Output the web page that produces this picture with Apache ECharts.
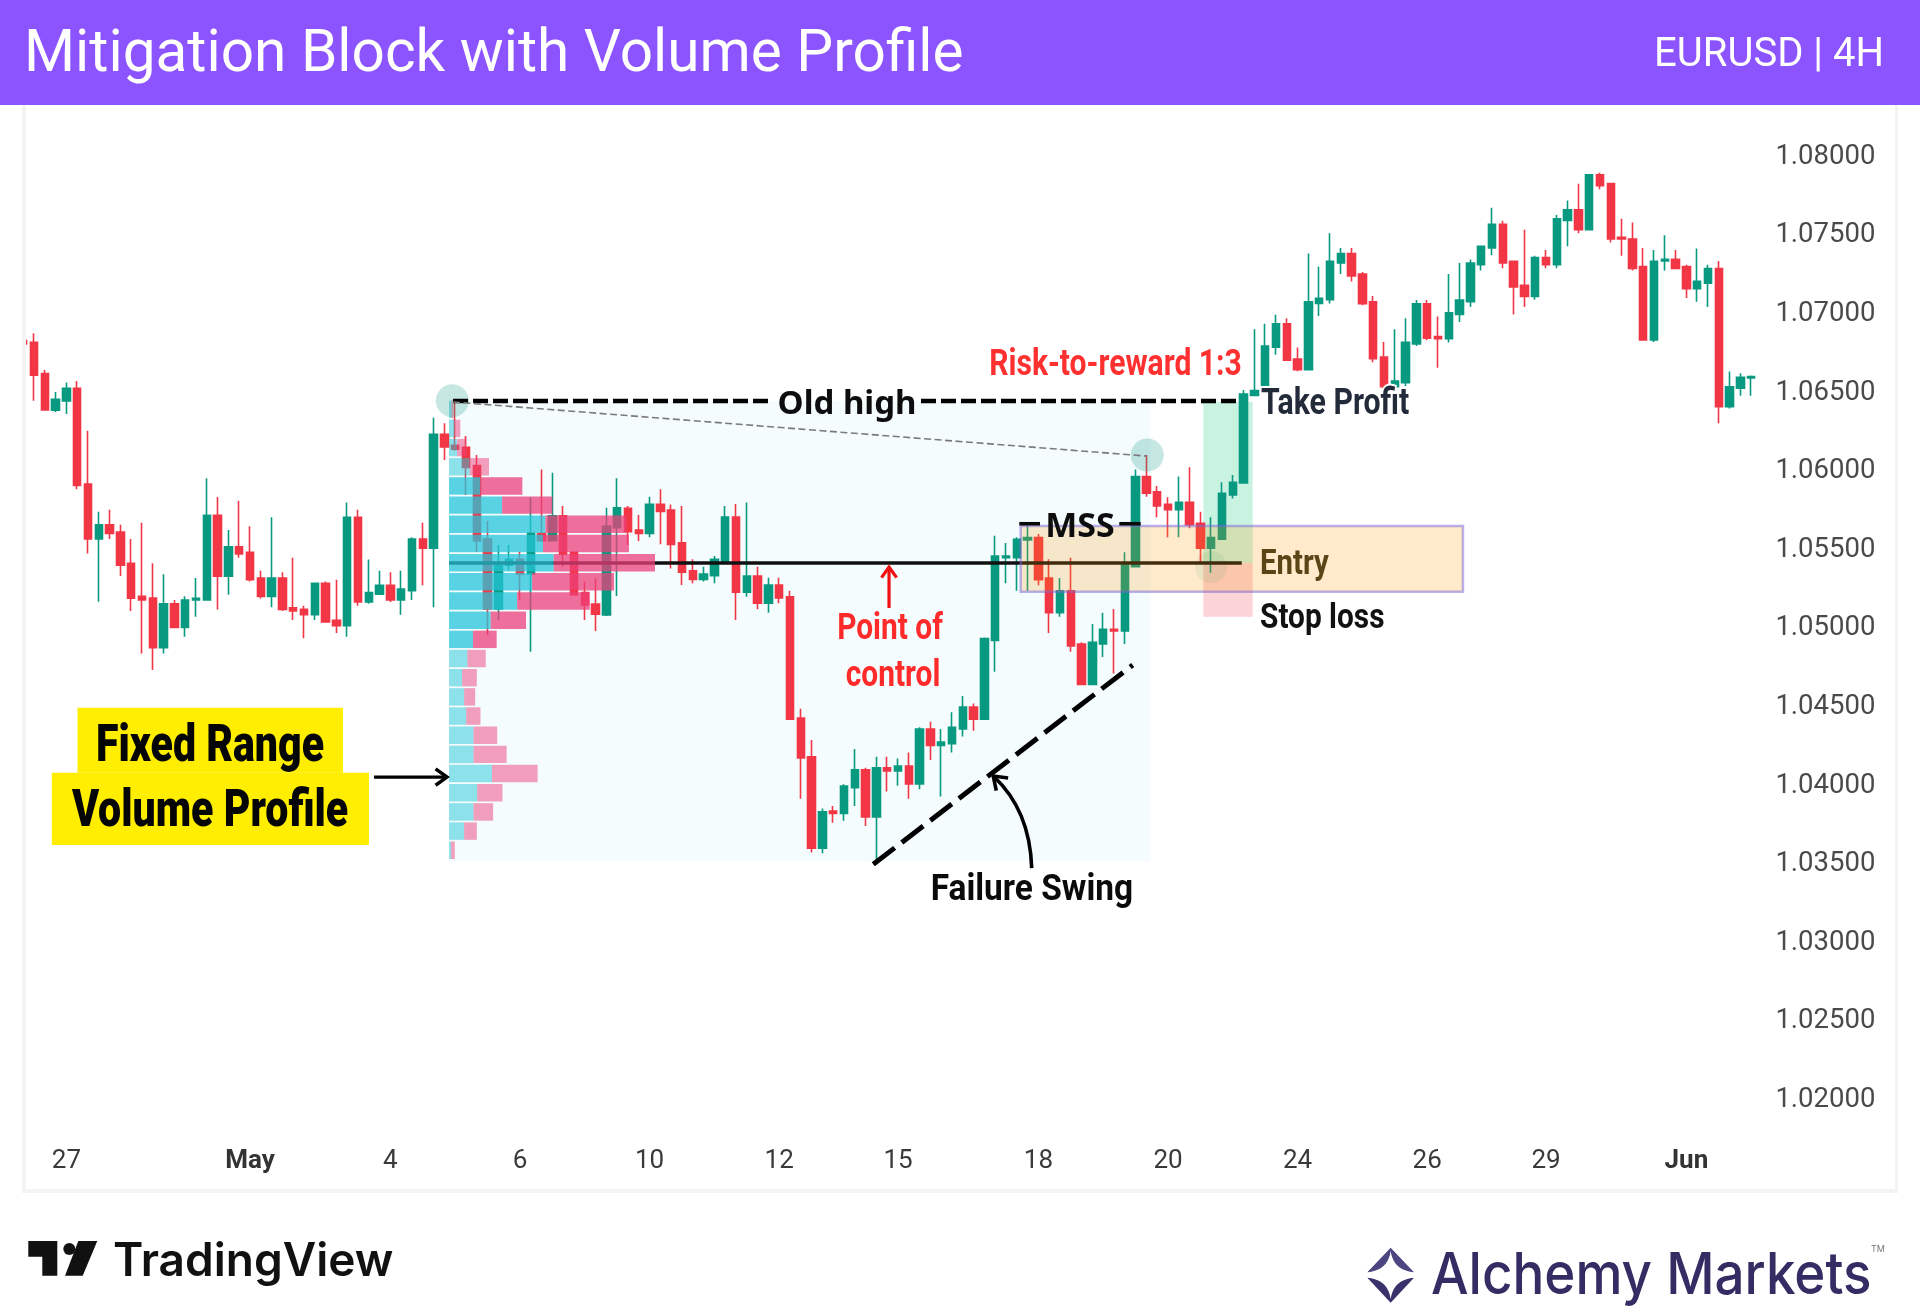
<!DOCTYPE html>
<html><head><meta charset="utf-8"><style>html,body{margin:0;padding:0;background:#fff}#c{width:1920px;height:1314px}</style>
<script src="https://cdn.jsdelivr.net/npm/echarts@6/dist/echarts.min.js"></script></head><body><div id="c"></div>
<script>
const opens=[1.06806,1.06795,1.06596,1.06363,1.06422,1.06503,1.05894,1.05544,1.05635,1.05588,
1.05389,1.05179,1.05168,1.04852,1.05132,1.04982,1.05156,1.05156,1.05695,1.05308,
1.05495,1.05459,1.05296,1.05179,1.05296,1.05107,1.05096,1.05062,1.05262,1.05027,
1.04993,1.05682,1.05143,1.05192,1.05249,1.05156,1.05215,1.05544,1.05485,1.06210,
1.06140,1.06127,1.06011,1.05544,1.05099,1.05378,1.05415,1.05321,1.05578,1.05533,
1.05692,1.05459,1.05203,1.05130,1.05060,1.05616,1.05739,1.05601,1.05580,1.05764,
1.05728,1.05520,1.05342,1.05287,1.05311,1.05400,1.05684,1.05205,1.05308,1.05135,
1.05251,1.05177,1.04405,1.04159,1.03576,1.03813,1.03798,1.03962,1.04076,1.03775,
1.04089,1.04068,1.04100,1.03985,1.04335,1.04231,1.04242,1.04335,1.04475,1.04397,
1.04899,1.05425,1.05425,1.05538,1.05553,1.05296,1.05075,1.05215,1.04876,1.04619,
1.04876,1.04969,1.04959,1.05368,1.05941,1.05845,1.05765,1.05731,1.05777,1.05644,
1.05485,1.05542,1.05824,1.05900,1.06458,1.06513,1.06764,1.06914,1.06689,1.06621,
1.07043,1.07067,1.07300,1.07360,1.07230,1.07054,1.06702,1.06513,1.06539,1.06785,
1.07041,1.06832,1.06819,1.06973,1.07054,1.07289,1.07396,1.07546,1.07311,1.07158,
1.07088,1.07334,1.07289,1.07571,1.07639,1.07512,1.07862,1.07805,1.07463,1.07453,
1.07277,1.06810,1.07313,1.07323,1.07277,1.07137,1.07171,1.07264,1.06386,1.06503,
1.06569];
const closes=[1.06785,1.06587,1.06365,1.06433,1.06503,1.05885,1.05544,1.05635,1.05580,1.05378,
1.05168,1.05156,1.04852,1.05132,1.04982,1.05156,1.05166,1.05695,1.05308,1.05495,
1.05449,1.05285,1.05179,1.05296,1.05096,1.05086,1.05062,1.05262,1.05016,1.04993,
1.05682,1.05143,1.05203,1.05249,1.05156,1.05226,1.05544,1.05485,1.06210,1.06130,
1.06115,1.06000,1.05531,1.05099,1.05378,1.05415,1.05321,1.05580,1.05533,1.05692,
1.05448,1.05188,1.05124,1.05065,1.05626,1.05743,1.05591,1.05580,1.05764,1.05720,
1.05510,1.05332,1.05287,1.05321,1.05415,1.05684,1.05205,1.05308,1.05135,1.05251,
1.05169,1.04397,1.04151,1.03576,1.03809,1.03798,1.03972,1.04076,1.03775,1.04089,
1.04068,1.04100,1.03985,1.04335,1.04231,1.04252,1.04346,1.04475,1.04397,1.04910,
1.05436,1.05436,1.05542,1.05553,1.05285,1.05075,1.05215,1.04863,1.04619,1.04887,
1.04969,1.04959,1.05379,1.05941,1.05835,1.05754,1.05731,1.05777,1.05635,1.05485,
1.05553,1.05835,1.05905,1.06467,1.06488,1.06772,1.06914,1.06681,1.06621,1.07054,
1.07075,1.07311,1.07360,1.07217,1.07041,1.06691,1.06513,1.06549,1.06795,1.07041,
1.06821,1.06819,1.06984,1.07065,1.07300,1.07406,1.07546,1.07300,1.07147,1.07088,
1.07334,1.07289,1.07582,1.07639,1.07512,1.07862,1.07792,1.07453,1.07453,1.07266,
1.06810,1.07311,1.07323,1.07266,1.07137,1.07183,1.07264,1.06386,1.06513,1.06573,
1.06577];
const lows=[1.06781,1.06424,1.06365,1.06352,1.06340,1.05860,1.05451,1.05145,1.05544,1.05308,
1.05086,1.04816,1.04710,1.04816,1.04982,1.04922,1.05050,1.05156,1.05096,1.05190,
1.05425,1.05273,1.05166,1.05109,1.05086,1.05029,1.04912,1.05029,1.05016,1.04946,
1.04922,1.05120,1.05132,1.05192,1.05143,1.05062,1.05156,1.05249,1.05109,1.06047,
1.06106,1.05824,1.05463,1.04933,1.05029,1.05347,1.05156,1.04827,1.05533,1.05533,
1.05368,1.05188,1.05029,1.04958,1.05054,1.05181,1.05506,1.05531,1.05555,1.05510,
1.05357,1.05251,1.05262,1.05274,1.05262,1.05393,1.05029,1.05177,1.05097,1.05075,
1.05135,1.04397,1.03892,1.03550,1.03544,1.03739,1.03752,1.03845,1.03718,1.03491,
1.03938,1.03974,1.03892,1.03951,1.04138,1.03905,1.04185,1.04288,1.04324,1.04397,
1.04700,1.05262,1.05215,1.05215,1.05249,1.04946,1.05050,1.04827,1.04619,1.04619,
1.04793,1.04689,1.04876,1.05368,1.05813,1.05682,1.05555,1.05555,1.05612,1.05400,
1.05330,1.05542,1.05801,1.05900,1.06458,1.06492,1.06717,1.06681,1.06611,1.06621,
1.06963,1.07043,1.07230,1.07183,1.07031,1.06668,1.06492,1.06492,1.06518,1.06772,
1.06808,1.06634,1.06795,1.06925,1.07020,1.07253,1.07349,1.07266,1.06973,1.07020,
1.07067,1.07266,1.07266,1.07406,1.07489,1.07512,1.07769,1.07430,1.07347,1.07253,
1.06810,1.06798,1.07253,1.07266,1.07077,1.07054,1.07020,1.06280,1.06375,1.06456,
1.06456];
const highs=[1.06810,1.06853,1.06619,1.06479,1.06539,1.06549,1.06233,1.05718,1.05730,1.05635,
1.05544,1.05648,1.05389,1.05319,1.05156,1.05179,1.05296,1.05930,1.05811,1.05601,
1.05788,1.05625,1.05342,1.05682,1.05332,1.05425,1.05120,1.05262,1.05273,1.05285,
1.05777,1.05730,1.05413,1.05342,1.05332,1.05342,1.05555,1.05648,1.06316,1.06280,
1.06428,1.06200,1.06079,1.05658,1.05506,1.05506,1.05463,1.05809,1.05987,1.05966,
1.05754,1.05459,1.05272,1.05294,1.05743,1.05930,1.05754,1.05697,1.05813,1.05860,
1.05764,1.05754,1.05415,1.05368,1.05436,1.05754,1.05767,1.05777,1.05368,1.05298,
1.05298,1.05215,1.04464,1.04265,1.03830,1.03845,1.03983,1.04208,1.04089,1.04159,
1.04159,1.04148,1.04185,1.04346,1.04382,1.04335,1.04441,1.04545,1.04498,1.04918,
1.05565,1.05519,1.05555,1.05627,1.05576,1.05415,1.05296,1.05425,1.04887,1.05003,
1.05075,1.05099,1.05459,1.05987,1.06079,1.05881,1.05809,1.05941,1.06000,1.05718,
1.05682,1.05905,1.05951,1.06492,1.06878,1.06914,1.06971,1.06948,1.06762,1.07360,
1.07277,1.07489,1.07396,1.07396,1.07243,1.07090,1.06798,1.06878,1.06948,1.07065,
1.07065,1.06959,1.07230,1.07300,1.07323,1.07406,1.07652,1.07569,1.07313,1.07512,
1.07347,1.07383,1.07606,1.07697,1.07805,1.07862,1.07875,1.07805,1.07582,1.07557,
1.07396,1.07383,1.07476,1.07383,1.07289,1.07393,1.07289,1.07313,1.06609,1.06598,
1.06585];
const barSlots=162;
const xTickIndex=[4,21,34,46,58,70,81,94,106,118,130,141,154];
const xTickLabels=['27','May','4','6','10','12','15','18','20','24','26','29','Jun'];
const yTicks={min:1.02,max:1.08,step:0.005};

const profileStart=39.43;
const profileRowSize=0.00122;
const profilePrices=[1.06425,1.06303,1.06181,1.06059,1.05937,1.05815,1.05693,1.05571,1.05449,1.05327,1.05205,1.05083,1.04961,1.04839,1.04717,1.04595,1.04473,1.04351,1.04229,1.04107,1.03985,1.03863,1.03741,1.03619];
const profileBuy=[0.22,0.52,0.74,1.91,2.90,4.91,8.92,8.70,9.69,7.69,6.30,3.86,2.22,1.70,1.21,1.40,1.59,2.27,2.27,3.97,2.61,2.27,1.40,0.19];
const profileSell=[0.15,0.52,0.86,1.79,3.89,4.66,7.50,7.96,9.38,7.59,6.73,3.27,2.19,1.70,1.36,1.02,1.32,2.19,3.06,4.23,2.34,1.81,1.17,0.34];
const profileInValueArea=[0,0,0,0,1,1,1,1,1,1,1,1,1,0,0,0,0,0,0,0,0,0,0,0];

const rangeZone=[39.43,104.38,1.06422,1.03495];
const entryZone=[92.36,133.31,1.05627,1.05209];
const takeProfitZone=[109.27,113.84,1.06418,1.05391];
const stopLossZone=[109.27,113.84,1.05391,1.05049];
const labelBoxes=[[5.03,29.61,1.04471,1.04057],[2.65,32.02,1.04057,1.03597]];
const swingPoints=[[39.73,1.06424],[104.08,1.06078]];
const entryPoint=[[109.98,1.05366]];
const oldHighLeft=[[39.8,1.06422],[68.96,1.06422]];
const oldHighRight=[[83.13,1.06422],[112.67,1.06422]];
const swingLink=[[39.8,1.06416],[103.96,1.06072]];
const pocLine=[[39.43,1.05391],[112.83,1.05391]];
const mssLeft=[[92.23,1.05641],[94.15,1.05641]];
const mssRight=[[101.49,1.05641],[103.47,1.05641]];
const trendLine=[[78.71,1.03474],[102.73,1.04742]];
const profileArrow=[[32.48,1.04029],[39.24,1.04029]];
const pocArrow=[[80.17,1.05105],[80.17,1.05366]];
const failureCurve=[[93.38,1.0345],[93.22,1.03819],[89.82,1.04036]];
const annotationLabels=[
 ['Old high',76.28,1.06416,'note'],
 ['MSS',97.85,1.05627,'mss'],
 ['Risk-to-reward 1:3',101.14,1.0667,'red'],
 ['Point of',80.26,1.04984,'redShort'],
 ['control',80.54,1.04685,'redShort'],
 ['Take Profit',114.61,1.06416,'tp'],
 ['Entry',114.52,1.05397,'entry'],
 ['Stop loss',114.52,1.05054,'stop'],
 ['Failure Swing',93.4,1.0333,'swing'],
 ['Fixed Range',17.3,1.04246,'box'],
 ['Volume Profile',17.3,1.03832,'box']
];

const COND='Roboto';
const labelStyles={
 note:{font:'700 33px "Noto Sans"',fill:'#0d0d0d',align:'center',sx:1,dy:3},
 mss:{font:'700 34px "Noto Sans"',fill:'#0d0d0d',align:'center',sx:1,dy:1.5},
 red:{font:'bold 36px '+COND,fill:'#ff3030',align:'center',sx:.836,dy:3.5},
 redShort:{font:'bold 36px '+COND,fill:'#ff2b2b',align:'center',sx:.83,dy:2.5},
 tp:{font:'bold 36px '+COND,fill:'#232b3a',align:'left',sx:.84,stroke:'#fff',lw:4,dy:3.5},
 entry:{font:'bold 35px '+COND,fill:'#5a4516',align:'left',sx:.84,dy:3.5},
 stop:{font:'bold 35.5px '+COND,fill:'#111',align:'left',sx:.84,dy:3.5},
 swing:{font:'bold 36px '+COND,fill:'#0a0a0a',align:'center',sx:.93,dy:4.5},
 box:{font:'900 52px '+COND,fill:'#050505',align:'center',sx:.79,dy:4.5}
};

const series=[];
function rectSeries(name,rects,fill,z,stroke,lw){
 series.push({name,type:'custom',coordinateSystem:'cartesian2d',xAxisIndex:1,yAxisIndex:0,z,silent:true,clip:false,
  encode:{x:[0,1],y:[2,3]},data:rects,
  renderItem(p,api){
   const a=api.coord([api.value(0),api.value(2)]),b=api.coord([api.value(1),api.value(3)]);
   return {type:'rect',shape:{x:a[0],y:a[1],width:b[0]-a[0],height:b[1]-a[1]},style:{fill,stroke:stroke||null,lineWidth:lw||0}};
  }});
}
function circleSeries(name,pts,r,fill,z){
 series.push({name,type:'custom',coordinateSystem:'cartesian2d',xAxisIndex:1,yAxisIndex:0,z,silent:true,clip:false,
  encode:{x:0,y:1},data:pts,
  renderItem(p,api){const c=api.coord([api.value(0),api.value(1)]);
   return {type:'circle',shape:{cx:c[0],cy:c[1],r},style:{fill}};}});
}
function head(tip,from,len){
 const ang=Math.atan2(tip[1]-from[1],tip[0]-from[0]),s=0.62;
 return [[tip[0]-len*Math.cos(ang-s),tip[1]-len*Math.sin(ang-s)],tip,[tip[0]-len*Math.cos(ang+s),tip[1]-len*Math.sin(ang+s)]];
}
function lineSeries(name,pts,stroke,lw,z,dash,arrow){
 series.push({name,type:'custom',coordinateSystem:'cartesian2d',xAxisIndex:1,yAxisIndex:0,z,silent:true,clip:false,
  encode:{x:0,y:1},data:[pts[0]],
  renderItem(p,api){
   const px=pts.map(q=>api.coord(q));
   const kids=[{type:'polyline',shape:{points:px},style:{stroke,lineWidth:lw,lineDash:dash||null,fill:null}}];
   if(arrow)kids.push({type:'polyline',shape:{points:head(px[1],px[0],arrow)},style:{stroke,lineWidth:lw,fill:null}});
   return {type:'group',children:kids};
  }});
}
function curveSeries(name,pts,stroke,lw,z,arrow){
 series.push({name,type:'custom',coordinateSystem:'cartesian2d',xAxisIndex:1,yAxisIndex:0,z,silent:true,clip:false,
  encode:{x:0,y:1},data:[pts[0]],
  renderItem(p,api){
   const [a,c,b]=pts.map(q=>api.coord(q));
   return {type:'group',children:[
    {type:'bezierCurve',shape:{x1:a[0],y1:a[1],x2:b[0],y2:b[1],cpx1:c[0],cpy1:c[1]},style:{stroke,lineWidth:lw,fill:null}},
    {type:'polyline',shape:{points:head(b,c,arrow)},style:{stroke,lineWidth:lw,fill:null}}]};
  }});
}

rectSeries('Range',[rangeZone],'rgba(38,198,218,0.05)',1);
rectSeries('Take profit',[takeProfitZone],'rgba(8,200,120,0.22)',1);
rectSeries('Stop loss',[stopLossZone],'rgba(242,54,69,0.22)',1);
circleSeries('Entry point',entryPoint,16,'rgba(8,153,129,0.1)',1);
series.push({name:'EURUSD',type:'candlestick',xAxisIndex:0,yAxisIndex:0,z:2,barWidth:8,silent:true,
 itemStyle:{color:'#089981',color0:'#f23645',borderColor:'#089981',borderColor0:'#f23645',borderWidth:1.6},
 data:opens.map((o,i)=>[o,closes[i],lows[i],highs[i]])});
lineSeries('POC',pocLine,'#111',3.4,3);
series.push({name:'Volume profile',type:'custom',coordinateSystem:'cartesian2d',xAxisIndex:1,yAxisIndex:0,z:4,silent:true,clip:false,
 encode:{x:1,y:0},data:profilePrices.map((pr,i)=>[pr,profileBuy[i],profileSell[i],profileInValueArea[i]]),
 renderItem(p,api){
  const top=api.value(0),buy=api.value(1),sell=api.value(2),va=api.value(3)?0.75:0.5;
  const bot=top-profileRowSize*0.91;
  const a=api.coord([profileStart,top]),b=api.coord([profileStart+buy,bot]),c=api.coord([profileStart+buy+sell,bot]);
  return {type:'group',children:[
   {type:'rect',shape:{x:a[0],y:a[1],width:b[0]-a[0],height:b[1]-a[1]},style:{fill:`rgba(38,198,218,${va})`}},
   {type:'rect',shape:{x:b[0],y:a[1],width:c[0]-b[0],height:b[1]-a[1]},style:{fill:`rgba(236,64,122,${va})`}}]};
 }});
rectSeries('Entry zone',[entryZone],'rgba(255,152,0,0.2)',5,'rgba(120,100,220,0.5)',2.5);
circleSeries('Swing highs',swingPoints,16.5,'rgba(8,153,129,0.23)',5);
rectSeries('Label boxes',labelBoxes,'#ffee00',5);
lineSeries('Old high',oldHighLeft,'#000',4.5,6,[15,5]);
lineSeries('Old high 2',oldHighRight,'#000',4.5,6,[15,5]);
lineSeries('Swing link',swingLink,'#7a7a7a',1.6,6,[7,3.5]);
lineSeries('MSS left',mssLeft,'#0a0a0a',3.6,6);
lineSeries('MSS right',mssRight,'#0a0a0a',3.6,6);
lineSeries('Trend',trendLine,'#000',5,6,[27,9]);
lineSeries('Profile arrow',profileArrow,'#000',3.4,6,null,14);
lineSeries('POC arrow',pocArrow,'#f01010',3.2,6,null,13);
curveSeries('Failure arrow',failureCurve,'#000',3.6,6,15);
series.push({name:'Annotations',type:'custom',coordinateSystem:'cartesian2d',xAxisIndex:1,yAxisIndex:0,z:7,silent:true,clip:false,
 encode:{x:1,y:2},data:annotationLabels.map(l=>[0,l[1],l[2]]),
 renderItem(p,api){
  const l=annotationLabels[p.dataIndex],s=labelStyles[l[3]],c=api.coord([l[1],l[2]]);
  return {type:'text',x:c[0],y:c[1]+s.dy,scaleX:s.sx,style:{x:0,y:0,text:l[0],font:s.font,fill:s.fill,align:s.align,verticalAlign:'middle',textAlign:s.align,textVerticalAlign:'middle',stroke:s.stroke||null,lineWidth:s.lw||0}};
 }});

function quad(p0,c,p1,n){const r=[];for(let i=1;i<=n;i++){const t=i/n,u=1-t;r.push([u*u*p0[0]+2*u*t*c[0]+t*t*p1[0],u*u*p0[1]+2*u*t*c[1]+t*t*p1[1]]);}return r;}
function logoPts(pts){return pts.map(q=>[1350+q[0]/3,1235+q[1]/3]);}
const starTop=logoPts([[122,38],[192,112],...quad([192,112],[130,106],[122,48],10),...quad([122,48],[114,106],[52,112],10)]);
const starBot=logoPts([[122,203],[192,128],...quad([192,128],[130,134],[122,192],10),...quad([122,192],[114,134],[52,128],10)]);
const graphic=[
 {type:'rect',z:100,shape:{x:0,y:0,width:1920,height:105},style:{fill:'#8c54ff'}},
 {type:'text',z:101,x:24,y:56,style:{text:'Mitigation Block with Volume Profile',font:'400 58.5px Roboto',fill:'#fff',textVerticalAlign:'middle',verticalAlign:'middle'}},
 {type:'text',z:101,x:1884,y:56,style:{text:'EURUSD | 4H',font:'400 40px Roboto',fill:'#fff',align:'right',textAlign:'right',textVerticalAlign:'middle',verticalAlign:'middle'}},
 {type:'rect',z:100,shape:{x:0,y:105,width:22,height:1100},style:{fill:'#fff'}},
 {type:'rect',z:100,shape:{x:22,y:105,width:4,height:1088},style:{fill:'#f4f4f4'}},
 {type:'rect',z:100,shape:{x:22,y:1189,width:1876,height:4},style:{fill:'#f4f4f4'}},
 {type:'rect',z:100,shape:{x:1895,y:105,width:3,height:1088},style:{fill:'#f4f4f4'}},
 {type:'polygon',z:100,shape:{points:[[28.3,1241],[57.3,1241],[57.3,1275.7],[42.3,1275.7],[42.3,1256.7],[28.3,1256.7]]},style:{fill:'#111'}},
 {type:'circle',z:100,shape:{cx:69.3,cy:1249,r:6},style:{fill:'#111'}},
 {type:'polygon',z:100,shape:{points:[[78.3,1241],[97.3,1241],[82.7,1275.7],[65,1275.7]]},style:{fill:'#111'}},
 {type:'text',z:100,x:113,y:1262,style:{text:'TradingView',font:'600 46px Inter',fill:'#111',textVerticalAlign:'middle',verticalAlign:'middle'}},
 {type:'polygon',z:100,shape:{points:starTop},style:{fill:'#4c4680'}},
 {type:'polygon',z:100,shape:{points:starBot},style:{fill:'#39326b'}},
 {type:'text',z:100,x:1431,y:1277,scaleX:.913,style:{x:0,y:0,text:'Alchemy Markets',font:'500 58px Inter',fill:'#342c63',textVerticalAlign:'middle',verticalAlign:'middle'}},
 {type:'text',z:100,x:1871,y:1249,style:{text:'TM',font:'400 9px Inter',fill:'#777',textVerticalAlign:'middle',verticalAlign:'middle'}}
];

const chart=echarts.init(document.getElementById('c'),null,{renderer:'canvas'});
chart.setOption({
 animation:false,backgroundColor:'#fff',graphic,
 grid:{left:17.8,right:152.6,top:153,bottom:218,containLabel:false},
 xAxis:[{type:'category',data:Array.from({length:barSlots},(_,i)=>String(i)),boundaryGap:true,
   axisLine:{show:false},axisTick:{show:false},splitLine:{show:false},
   axisLabel:{interval:0,margin:52,hideOverlap:false,fontFamily:'Roboto',fontSize:26,color:'#3a3a3a',
    formatter(v,i){const k=xTickIndex.indexOf(i);if(k<0)return '';const t=xTickLabels[k];return /[A-Za-z]/.test(t)?'{m|'+t+'}':t;},
    rich:{m:{fontFamily:'Roboto',fontSize:26,fontWeight:'bold',color:'#333'}}}},
  {type:'value',min:-0.5,max:barSlots-0.5,show:false,splitLine:{show:false}}],
 yAxis:[{type:'value',position:'right',min:yTicks.min,max:yTicks.max,interval:yTicks.step,scale:true,
   axisLine:{show:false},axisTick:{show:false},splitLine:{show:false},
   axisLabel:{margin:8,fontFamily:'Roboto',fontSize:27.5,color:'#4a4a4a',
    formatter:v=>'{p|'+v.toFixed(5)+'}',
    rich:{p:{fontFamily:'Roboto',fontSize:27.5,color:'#4a4a4a',padding:[8,0,0,0]}}}}],
 series
});
</script></body></html>
